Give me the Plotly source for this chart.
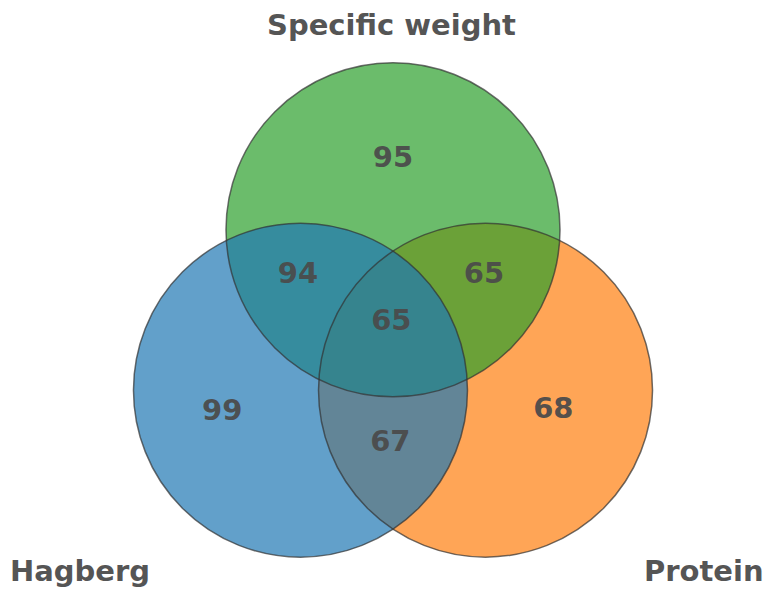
import plotly.graph_objects as go

# ---- data ----
set_names = ["Hagberg", "Specific weight", "Protein"]
region_labels = ["Specific weight only", "Hagberg & Specific weight", "Specific weight & Protein",
                 "All three", "Hagberg only", "Hagberg & Protein", "Protein only"]
region_counts = [95, 94, 65, 65, 99, 67, 68]

# ---- Venn geometry (unit radius circles) ----
R = 1.0
circle_centers = {
    "Protein": (0.554, -0.32),
    "Specific weight": (0.0, 0.64),
    "Hagberg": (-0.554, -0.32),
}
circle_fill = {
    "Protein": "rgba(255,127,14,0.7)",
    "Specific weight": "rgba(44,160,44,0.7)",
    "Hagberg": "rgba(31,119,180,0.7)",
}
region_pos_x = [0.0, -0.569, 0.545, -0.01, -1.023, -0.016, 0.96]
region_pos_y = [1.058, 0.363, 0.363, 0.082, -0.457, -0.643, -0.445]

fig = go.Figure()

shapes = []
for name in ["Protein", "Specific weight", "Hagberg"]:
    cx, cy = circle_centers[name]
    shapes.append(dict(type="circle", xref="x", yref="y",
                       x0=cx - R, x1=cx + R, y0=cy - R, y1=cy + R,
                       fillcolor=circle_fill[name], line=dict(width=0), layer="below"))
for name in ["Protein", "Specific weight", "Hagberg"]:
    cx, cy = circle_centers[name]
    shapes.append(dict(type="circle", xref="x", yref="y",
                       x0=cx - R, x1=cx + R, y0=cy - R, y1=cy + R,
                       fillcolor="rgba(0,0,0,0)",
                       line=dict(width=1.5, color="rgba(50,50,50,0.7)"), layer="below"))

fig.add_trace(go.Scatter(
    x=region_pos_x, y=region_pos_y, mode="text",
    text=[str(v) for v in region_counts],
    textfont=dict(family="DejaVu Sans", size=29, color="rgba(75,75,75,0.95)", weight="bold"),
    hovertext=region_labels, hoverinfo="text", showlegend=False,
))

label_font = dict(family="DejaVu Sans", size=29, color="#555555", weight="bold")
annotations = [
    dict(text="Specific weight", x=391 / 763, y=1 - 25 / 589, xref="paper", yref="paper",
         showarrow=False, font=label_font, xanchor="center", yanchor="middle"),
    dict(text="Hagberg", x=80 / 763, y=1 - 571 / 589, xref="paper", yref="paper",
         showarrow=False, font=label_font, xanchor="center", yanchor="middle"),
    dict(text="Protein", x=704 / 763, y=1 - 571 / 589, xref="paper", yref="paper",
         showarrow=False, font=label_font, xanchor="center", yanchor="middle"),
]

scale = 167.0
ox, oy = 393.0, 336.7
fig.update_layout(
    width=763, height=589,
    margin=dict(l=0, r=0, t=0, b=0),
    paper_bgcolor="white", plot_bgcolor="white",
    shapes=shapes, annotations=annotations,
    xaxis=dict(range=[-ox / scale, (763 - ox) / scale], visible=False, fixedrange=True),
    yaxis=dict(range=[-(589 - oy) / scale, oy / scale], visible=False, fixedrange=True),
    showlegend=False,
)

fig.write_html("out.html",
               config={"displayModeBar": False},
               post_script="document.body.style.margin='0';document.body.style.overflow='hidden';")
